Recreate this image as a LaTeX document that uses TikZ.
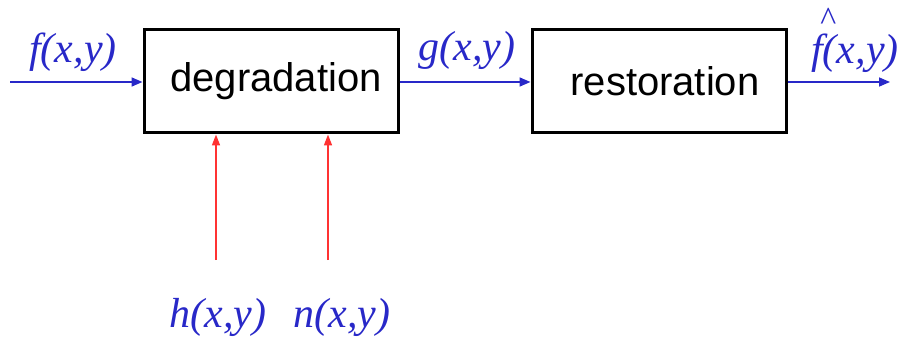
\documentclass[tikz,border=0pt]{standalone}
\usepackage{fontspec}
\setmainfont{Liberation Serif}
\setsansfont{Liberation Sans}
\usetikzlibrary{arrows.meta}
\definecolor{sigblue}{RGB}{40,40,200}
\definecolor{sigred}{RGB}{255,50,50}
\tikzset{
  blockbox/.style={draw=black,line width=3pt,minimum width=254pt,minimum height=103pt,inner sep=0pt,font=\sffamily\fontsize{40}{40}\selectfont},
  sig/.style={text=sigblue,font=\itshape\fontsize{42}{42}\selectfont,inner sep=0pt},
  bluearrow/.style={draw=sigblue,line width=1.6pt,-{Triangle[length=11pt,width=9pt]}},
  redarrow/.style={draw=sigred,line width=1.6pt,-{Triangle[length=11pt,width=8pt]}}
}
\begin{document}
\begin{tikzpicture}[x=1pt,y=-1pt]
\useasboundingbox (0,0) rectangle (902,342);
\node[blockbox] (deg) at (271,81.5) {\hspace{10pt}degradation};
\node[blockbox] (res) at (659,81.5) {\hspace{12pt}restoration};
\coordinate (in) at (10,82);
\coordinate (out) at (890,82);
\coordinate (hs) at (216,260);
\coordinate (ns) at (328,260);
\draw[bluearrow] (in) -- (deg.west |- in);
\draw[bluearrow] (deg.east |- in) -- (res.west |- in);
\draw[bluearrow] (res.east |- out) -- (out);
\draw[redarrow] (hs) -- (deg.south -| hs);
\draw[redarrow] (ns) -- (deg.south -| ns);
\node[sig] (f) at (73,52) {f(x,y)};
\node[sig] (g) at (467,50) {g(x,y)};
\node[sig,anchor=base] (fh) at (855,64) {\rlap{\raisebox{0.8em}{\kern0.2em\fontsize{34}{34}\selectfont\^{}}}f(x,y)};
\node[sig] (h) at (218,317) {h(x,y)};
\node[sig] (n) at (342,317) {n(x,y)};
\end{tikzpicture}
\end{document}
